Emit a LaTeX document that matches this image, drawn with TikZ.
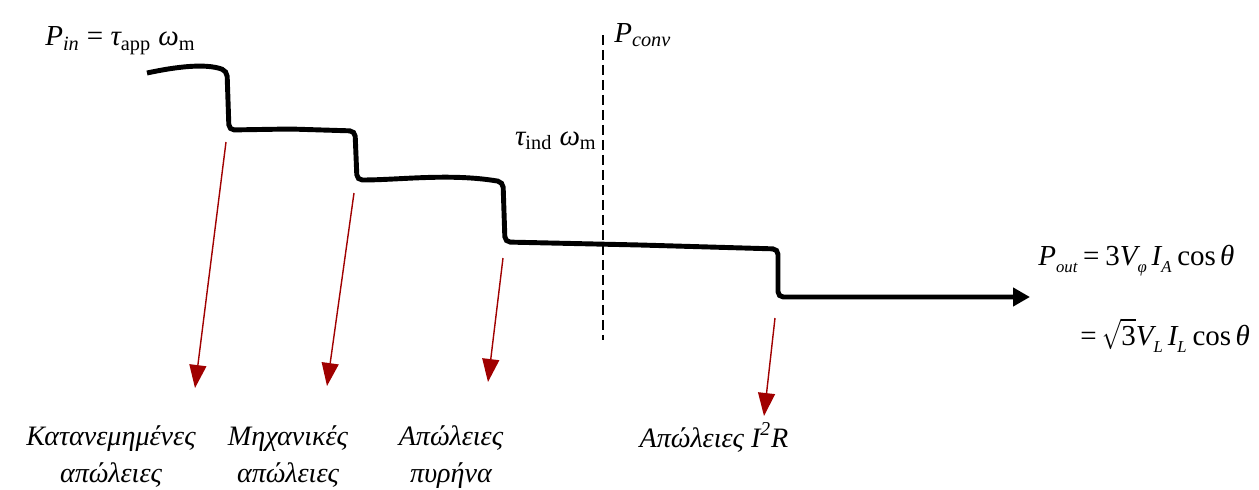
\documentclass[tikz,border=0pt]{standalone}
\usepackage{fontspec}
\setmainfont{Liberation Serif}
\usetikzlibrary{arrows.meta}
\definecolor{lossred}{HTML}{A00000}
\newcommand\lsub[1]{\raisebox{-0.55ex}{\fontsize{9.5}{9.5}\selectfont #1}}
\newcommand\rootthree{\scalebox{0.75}[1]{$\sqrt{\mbox{\scalebox{1.3333}[1]{3}}}$}}
\begin{document}
\begin{tikzpicture}[x=0.02cm,y=-0.02cm,
  power/.style={line width=2.8pt,rounded corners=3pt,-{Triangle[length=0.34cm,width=0.36cm]}},
  loss/.style={lossred,line width=0.8pt,-{Triangle[length=0.46cm,width=0.34cm]}},
  conv/.style={line width=1.5pt,dash pattern=on 0.2cm off 0.1cm},
  eq/.style={inner sep=0pt,font=\fontsize{16.5}{20}\selectfont},
  losslabel/.style={inner sep=0pt,align=center,font=\fontsize{16}{20.5}\selectfont\itshape}]
\useasboundingbox (0,0) rectangle (1259,490);
% power flow line
\coordinate (s0) at (147,73);
\coordinate (e0) at (1030,297);
\draw[power] (s0) .. controls (175,67) and (205,63) .. (227,71) -- (229,130) -- (290,129) -- (355,131) -- (357,180) .. controls (400,180) and (450,173) .. (503,182) -- (505,242) -- (640,245) -- (778,249) -- (778,297) -- (e0);
% dashed conversion line
\coordinate (d1) at (603,35);
\coordinate (d2) at (603,340);
\draw[conv] (d1) -- (d2);
% labels
\node[eq,anchor=base west] (pin) at (45,46) {{\itshape P}\textsubscript{\itshape in} = {\itshape τ}\textsubscript{app} {\itshape ω}\textsubscript{m}};
\node[eq,anchor=base west] (pconv) at (614,42) {{\itshape P}\textsubscript{\itshape conv}};
\node[eq,anchor=base east] (tind) at (597,145) {{\itshape τ}\textsubscript{ind} {\itshape ω}\textsubscript{m}};
\node[eq,anchor=base west] (pout) at (1038,265) {{\itshape P}\lsub{\itshape out}\hspace{0.2em}=\hspace{0.2em}3{\itshape V}\lsub{\itshape φ}\,{\itshape I}\lsub{\itshape A}\hspace{0.2em}cos\hspace{0.15em}{\itshape θ}};
\node[eq,anchor=base west] (pout2) at (1080,345) {=\hspace{0.2em}\rootthree{\itshape V}\lsub{\itshape L}\,{\itshape I}\lsub{\itshape L}\hspace{0.2em}cos\hspace{0.15em}{\itshape θ}};
% loss arrows
\coordinate (a1s) at (226,142); \coordinate (a1e) at (195,388);
\coordinate (a2s) at (354,193); \coordinate (a2e) at (327,386);
\coordinate (a3s) at (503,258); \coordinate (a3e) at (488,382);
\coordinate (a4s) at (775,318); \coordinate (a4e) at (764,416);
\draw[loss] (a1s) -- (a1e);
\draw[loss] (a2s) -- (a2e);
\draw[loss] (a3s) -- (a3e);
\draw[loss] (a4s) -- (a4e);
% loss labels
\node[losslabel,anchor=base] (l1) at (111,482) {Κατανεμημένες\\απώλειες};
\node[losslabel,anchor=base] (l2) at (288,482) {Μηχανικές\\απώλειες};
\node[losslabel,anchor=base] (l3) at (451,482) {Απώλειες\\πυρήνα};
\node[losslabel,anchor=base] (l4) at (714,447) {Απώλειες {\itshape I}\textsuperscript{2}{\itshape R}};
\end{tikzpicture}
\end{document}
